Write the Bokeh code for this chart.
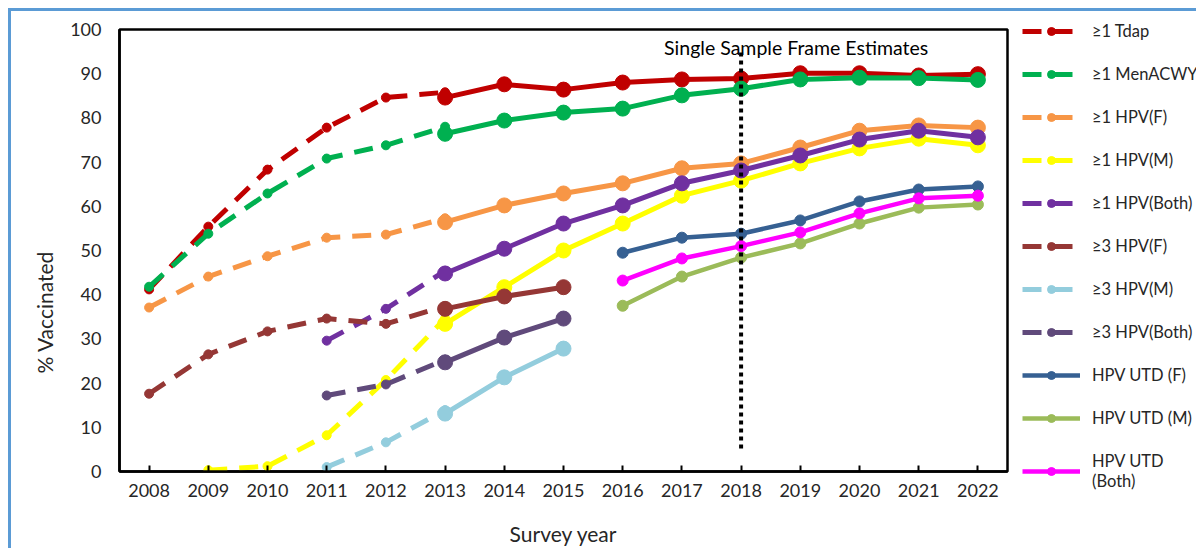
from bokeh.plotting import figure
from bokeh.models import Legend, LegendItem, Label, FixedTicker, Range1d, Title
from bokeh.embed import file_html
from bokeh.resources import INLINE

# ---------------- data ----------------
years = list(range(2008, 2023))
y_ticks = list(range(0, 101, 10))

series_names = ["≥1 Tdap", "≥1 MenACWY", "≥1 HPV(F)", "≥1 HPV(M)", "≥1 HPV(Both)",
                "≥3 HPV(F)", "≥3 HPV(M)", "≥3 HPV(Both)",
                "HPV UTD (F)", "HPV UTD (M)", "HPV UTD\n(Both)"]
series_colors = ["#C00000", "#00B050", "#F79646", "#FFFF00", "#7030A0",
                 "#953735", "#93CDDD", "#604A7B",
                 "#366092", "#9BBB59", "#FF00FF"]

# earlier estimates (dashed)
tdap_dash_years = [2008, 2009, 2010, 2011, 2012, 2013]
tdap_dash = [41.2, 55.4, 68.3, 77.8, 84.6, 85.8]
menacwy_dash_years = [2008, 2009, 2010, 2011, 2012, 2013]
menacwy_dash = [41.8, 53.8, 62.9, 70.8, 73.8, 78.0]
hpv1f_dash_years = [2008, 2009, 2010, 2011, 2012, 2013]
hpv1f_dash = [37.1, 44.1, 48.7, 52.9, 53.6, 57.3]
hpv1m_dash_years = [2009, 2010, 2011, 2012, 2013]
hpv1m_dash = [0.3, 1.2, 8.2, 20.7, 34.6]
hpv1b_dash_years = [2011, 2012, 2013]
hpv1b_dash = [29.6, 36.8, 45.4]
hpv3f_dash_years = [2008, 2009, 2010, 2011, 2012, 2013]
hpv3f_dash = [17.6, 26.5, 31.7, 34.6, 33.4, 37.4]
hpv3m_dash_years = [2011, 2012, 2013]
hpv3m_dash = [1.0, 6.6, 13.9]
hpv3b_dash_years = [2011, 2012, 2013]
hpv3b_dash = [17.2, 19.7, 25.3]

# later estimates (solid)
tdap_solid_years = list(range(2013, 2023))
tdap_solid = [84.6, 87.6, 86.4, 88.0, 88.7, 88.9, 90.1, 90.1, 89.6, 89.9]
menacwy_solid_years = list(range(2013, 2023))
menacwy_solid = [76.4, 79.4, 81.2, 82.1, 85.1, 86.6, 88.7, 89.1, 89.0, 88.6]
hpv1f_solid_years = list(range(2013, 2023))
hpv1f_solid = [56.4, 60.2, 62.9, 65.2, 68.6, 69.7, 73.3, 77.1, 78.3, 77.8]
hpv1m_solid_years = list(range(2013, 2023))
hpv1m_solid = [33.4, 41.7, 50.0, 56.1, 62.4, 65.8, 69.7, 73.1, 75.3, 73.8]
hpv1b_solid_years = list(range(2013, 2023))
hpv1b_solid = [44.8, 50.4, 56.1, 60.2, 65.2, 68.1, 71.5, 75.1, 77.1, 75.6]
hpv3f_solid_years = [2013, 2014, 2015]
hpv3f_solid = [36.8, 39.6, 41.7]
hpv3m_solid_years = [2013, 2014, 2015]
hpv3m_solid = [13.1, 21.3, 27.8]
hpv3b_solid_years = [2013, 2014, 2015]
hpv3b_solid = [24.7, 30.3, 34.6]
utdf_years = list(range(2016, 2023))
utdf = [49.5, 52.9, 53.8, 56.8, 61.1, 63.8, 64.5]
utdm_years = list(range(2016, 2023))
utdm = [37.5, 44.1, 48.4, 51.6, 56.1, 59.7, 60.4]
utdb_years = list(range(2016, 2023))
utdb = [43.2, 48.2, 51.0, 54.1, 58.4, 61.8, 62.4]

# single sample frame marker
frame_year = [2018]
frame_low = [5.2]
frame_high = [95.7]
frame_text = "Single Sample Frame Estimates"
frame_text_x = 2018.93
frame_text_y = 96.0

dash_data = [(tdap_dash_years, tdap_dash), (menacwy_dash_years, menacwy_dash),
             (hpv1f_dash_years, hpv1f_dash), (hpv1m_dash_years, hpv1m_dash),
             (hpv1b_dash_years, hpv1b_dash), (hpv3f_dash_years, hpv3f_dash),
             (hpv3m_dash_years, hpv3m_dash), (hpv3b_dash_years, hpv3b_dash),
             None, None, None]
solid_data = [(tdap_solid_years, tdap_solid), (menacwy_solid_years, menacwy_solid),
              (hpv1f_solid_years, hpv1f_solid), (hpv1m_solid_years, hpv1m_solid),
              (hpv1b_solid_years, hpv1b_solid), (hpv3f_solid_years, hpv3f_solid),
              (hpv3m_solid_years, hpv3m_solid), (hpv3b_solid_years, hpv3b_solid),
              (utdf_years, utdf), (utdm_years, utdm), (utdb_years, utdb)]

# ---------------- figure ----------------
FONT = "Lato"
TXT = "#262626"
BLUE = "#5B9BD5"

p = figure(output_backend="svg", toolbar_location=None,
           frame_width=888, frame_height=442,
           min_border_left=119, min_border_right=173,
           min_border_top=29, min_border_bottom=73,
           x_range=Range1d(2007.5, 2022.5), y_range=Range1d(0, 100))
p.border_fill_color = None
p.background_fill_color = "white"
p.styles = {
    "background": (f"linear-gradient({BLUE},{BLUE}) 8px 8px / 3px 100% no-repeat, "
                   f"linear-gradient({BLUE},{BLUE}) 8px 8px / 100% 3px no-repeat, white")
}

p.xgrid.grid_line_color = None
p.ygrid.grid_line_color = None
p.outline_line_color = "black"
p.outline_line_width = 2.5
p.outline_line_alpha = 1.0

p.xaxis.ticker = FixedTicker(ticks=years)
p.yaxis.ticker = FixedTicker(ticks=y_ticks)
for ax in (p.xaxis, p.yaxis):
    ax.axis_line_color = "black"
    ax.axis_line_width = 2.5
    ax.major_label_text_font = FONT
    ax.major_label_text_font_size = "18px"
    ax.major_label_text_color = TXT
    ax.axis_label_text_font = FONT
    ax.axis_label_text_font_size = "21px"
    ax.axis_label_text_font_style = "normal"
    ax.axis_label_text_color = TXT
    ax.minor_tick_line_color = None

p.xaxis.axis_label = "Survey year"
p.xaxis.major_tick_in = 6
p.xaxis.major_tick_out = 0
p.xaxis.major_tick_line_color = "black"
p.xaxis.major_tick_line_width = 2
p.xaxis.major_label_standoff = 12
p.xaxis.axis_label_standoff = 21

p.yaxis.major_tick_line_color = None
p.yaxis.major_tick_in = 0
p.yaxis.major_tick_out = 0
p.yaxis.major_label_standoff = 18

# y title: sits below the middle of the axis in the original
p.add_layout(Title(text="% Vaccinated", align="left", offset=98, standoff=21,
                   text_font=FONT, text_font_size="21px",
                   text_font_style="normal", text_color=TXT), "left")

legend_items = []
for i, name in enumerate(series_names):
    col = series_colors[i]
    rends = []
    if dash_data[i] is not None:
        xs, ys = dash_data[i]
        l = p.line(xs, ys, line_color=col, line_width=5, line_dash="19 12")
        s = p.scatter(xs, ys, size=9, fill_color=col, line_color=col)
        rends = [l, s]
    xs, ys = solid_data[i]
    big = 15 if i < 8 else 11
    lw = 5 if i < 8 else 4.5
    l2 = p.line(xs, ys, line_color=col, line_width=lw)
    s2 = p.scatter(xs, ys, size=big, fill_color=col, line_color=col)
    if not rends:
        rends = [l2, s2]
    legend_items.append(LegendItem(label=name, renderers=rends))

# single sample frame divider
p.segment(x0=frame_year, y0=frame_low, x1=frame_year, y1=frame_high,
          line_color="black", line_width=4, line_dash="4 4")
p.add_layout(Label(x=frame_text_x, y=frame_text_y, text=frame_text,
                   text_font=FONT, text_font_size="19.5px", text_color="black",
                   text_align="center", text_baseline="middle"))

legend = Legend(items=legend_items, location=(15, -20),
                glyph_width=58, glyph_height=20, label_height=20,
                spacing=23, padding=0, margin=0,
                label_standoff=12, label_text_font=FONT,
                label_text_font_size="16.5px", label_text_color=TXT,
                border_line_color=None, background_fill_alpha=0)
p.add_layout(legend, "right")

open("out.html", "w").write(file_html(p, INLINE))
